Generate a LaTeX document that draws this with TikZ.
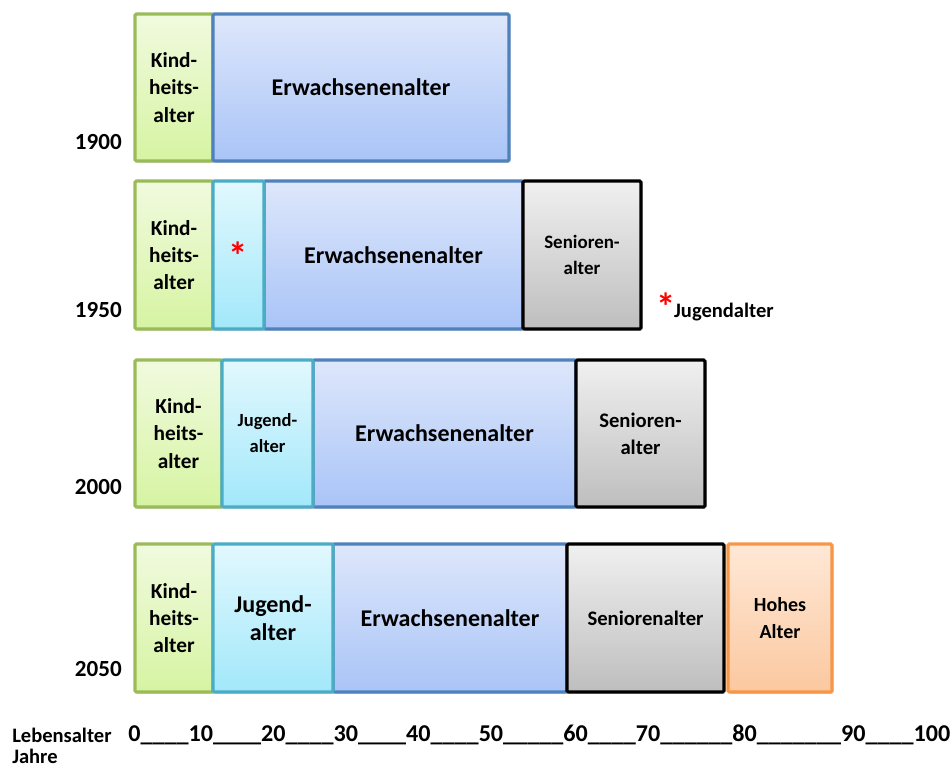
\documentclass[tikz,border=0pt]{standalone}
\usepackage{fontspec}
\setmainfont{Carlito}
\usetikzlibrary{shadows}
\definecolor{kindB}{HTML}{9BBB59}
\definecolor{kindT}{HTML}{F1FADF}
\definecolor{kindD}{HTML}{D6F4A2}
\definecolor{jugB}{HTML}{4BACC6}
\definecolor{jugT}{HTML}{E2F8FE}
\definecolor{jugD}{HTML}{A2E8FA}
\definecolor{erwB}{HTML}{4F81BD}
\definecolor{erwT}{HTML}{DEE7FB}
\definecolor{erwD}{HTML}{A9C4F7}
\definecolor{senT}{HTML}{F0F0F0}
\definecolor{senD}{HTML}{BEBEBE}
\definecolor{hohB}{HTML}{F79646}
\definecolor{hohT}{HTML}{FFE8D6}
\definecolor{hohD}{HTML}{FBC8A0}
\tikzset{
  seg/.style={draw, line width=2.3pt, rounded corners=1pt, align=center, inner sep=0pt,
    drop shadow={opacity=0.25, shadow xshift=1.2pt, shadow yshift=-1.4pt}},
  kindbox/.style={seg, draw=kindB, top color=kindT, bottom color=kindD},
  jugbox/.style={seg, draw=jugB, top color=jugT, bottom color=jugD},
  erwbox/.style={seg, draw=erwB, top color=erwT, bottom color=erwD},
  senbox/.style={seg, draw=black, top color=senT, bottom color=senD},
  hohbox/.style={seg, draw=hohB, top color=hohT, bottom color=hohD},
  yearlbl/.style={anchor=east, inner sep=0pt, font=\bfseries\fontsize{17.3}{20}\selectfont},
  fK/.style={font=\bfseries\fontsize{16}{20.5}\selectfont},
  fE/.style={font=\bfseries\fontsize{18}{21}\selectfont},
}
\begin{document}
\begin{tikzpicture}[x=0.75pt,y=-0.75pt]
\useasboundingbox (0,0) rectangle (952,769);
% 1900
\node[kindbox, fK, minimum width=58.5pt, minimum height=110.25pt] (k1) at (174,87.5) {Kind-\\heits-\\alter};
\node[erwbox, fE, minimum width=222pt, minimum height=110.25pt] (e1) at (361,87.5) {Erwachsenenalter};
\node[yearlbl] (y1) at (122,142) {1900};
% 1950
\node[kindbox, fK, minimum width=58.5pt, minimum height=111pt] (k2) at (174,255) {Kind-\\heits-\\alter};
\node[erwbox, fE, minimum width=194.25pt, minimum height=111pt] (e2) at (393.5,255) {Erwachsenenalter};
\node[jugbox, minimum width=38.25pt, minimum height=111pt] (j2) at (238.5,255) {};
\node[text=red, font=\bfseries\fontsize{29}{29}\selectfont, inner sep=0pt] (st) at (238.5,256) {*};
\node[senbox, font=\bfseries\fontsize{14.2}{19.5}\selectfont, minimum width=88.5pt, minimum height=111pt] (s2) at (582,255) {Senioren-\\alter};
\node[yearlbl] (y2) at (122,310) {1950};
\node[anchor=west, inner sep=0pt, font=\bfseries\fontsize{15.4}{18}\selectfont] (leg) at (656,307) {\textcolor{red}{\fontsize{29}{29}\selectfont\raisebox{-2pt}{*}}\hspace{-1pt}Jugendalter};
% 2000
\node[kindbox, fK, minimum width=65.25pt, minimum height=110.25pt] (k3) at (178.5,433.5) {Kind-\\heits-\\alter};
\node[erwbox, fE, minimum width=197.25pt, minimum height=110.25pt] (e3) at (444.5,433.5) {Erwachsenenalter};
\node[jugbox, font=\bfseries\fontsize{13.9}{19.5}\selectfont, minimum width=68.25pt, minimum height=110.25pt] (j3) at (267.5,433.5) {Jugend-\\alter};
\node[senbox, font=\bfseries\fontsize{15.5}{20.5}\selectfont, minimum width=96.75pt, minimum height=110.25pt] (s3) at (640.5,433.5) {Senioren-\\alter};
\node[yearlbl] (y3) at (122,487) {2000};
% 2050
\node[kindbox, fK, minimum width=58.5pt, minimum height=111pt] (k4) at (174,618) {Kind-\\heits-\\alter};
\node[erwbox, fE, minimum width=175.5pt, minimum height=111pt] (e4) at (450,618) {Erwachsenenalter};
\node[jugbox, font=\bfseries\fontsize{18}{21}\selectfont, minimum width=90pt, minimum height=111pt] (j4) at (273,618) {Jugend-\\alter};
\node[senbox, font=\bfseries\fontsize{15.5}{20}\selectfont, minimum width=117.75pt, minimum height=111pt] (s4) at (645.5,618) {Seniorenalter};
\node[hohbox, font=\bfseries\fontsize{15}{20}\selectfont, minimum width=78pt, minimum height=111pt] (h4) at (780,618) {Hohes\\Alter};
\node[yearlbl] (y4) at (122,669) {2050};
% axis
\node[anchor=west, inner sep=0pt, font=\bfseries\fontsize{15.4}{18}\selectfont] (lb) at (12,735) {Lebensalter};
\node[anchor=west, inner sep=0pt, font=\bfseries\fontsize{15.4}{18}\selectfont] (jr) at (12,756) {Jahre};
\node[anchor=west, inner sep=0pt, font=\bfseries\fontsize{18.1}{20}\selectfont] (ax) at (128,735) {0\_\_\_\_10\_\_\_\_20\_\_\_\_30\_\_\_\_40\_\_\_\_50\_\_\_\_\_60\_\_\_\_70\_\_\_\_\_\_80\_\_\_\_\_\_\_90\_\_\_\_100};
\end{tikzpicture}
\end{document}
